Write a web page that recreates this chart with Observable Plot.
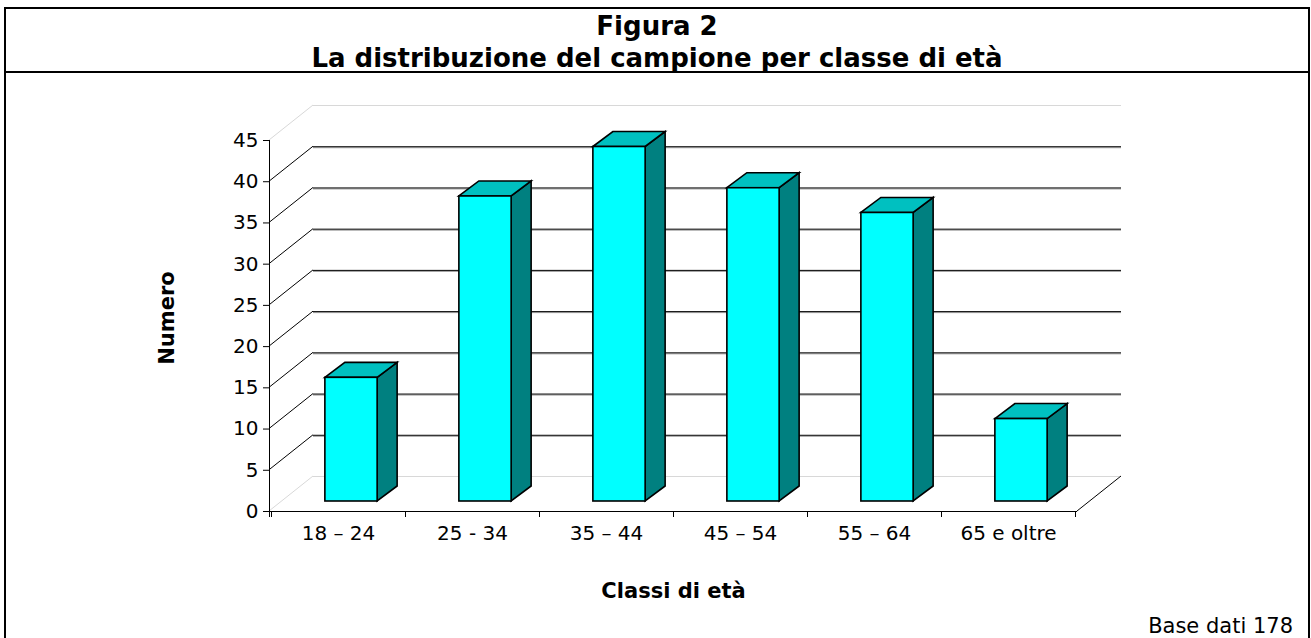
<!DOCTYPE html>
<html><head><meta charset="utf-8">
<script src="https://cdn.jsdelivr.net/npm/d3@7"></script>
<script src="https://cdn.jsdelivr.net/npm/@observablehq/plot@0.6"></script>
<style>
html,body{margin:0;padding:0;background:#fff;}
#page{position:relative;width:1311px;height:638px;overflow:hidden;font-family:"DejaVu Sans",Verdana,sans-serif;color:#000;background:#fff;}
#chart{position:absolute;left:0;top:0;}
#frame{position:absolute;left:4px;top:7px;width:1306px;height:660px;border:2px solid #000;box-sizing:border-box;pointer-events:none;}
#sep{position:absolute;left:4px;top:71px;width:1306px;height:2px;background:#000;}
#title{position:absolute;left:4px;top:10px;width:1306px;text-align:center;font-weight:bold;font-size:26px;line-height:32px;}
#base{position:absolute;right:18px;top:615px;font-size:21px;line-height:22px;white-space:nowrap;}
</style></head>
<body><div id="page"><div id="chart"></div><div id="frame"></div><div id="sep"></div><div id="title"></div><div id="base"></div></div>
<script>
// ---- data ----
const titleLines = ["Figura 2", "La distribuzione del campione per classe di età"];
const categories = ["18 – 24", "25 - 34", "35 – 44", "45 – 54", "55 – 64", "65 e oltre"];
const counts = [15, 37, 43, 38, 35, 10];
const yTicks = [0, 5, 10, 15, 20, 25, 30, 35, 40, 45];
const yLabel = "Numero";
const xLabel = "Classi di età";
const caption = "Base dati 178";

// ---- styles / 3D geometry (pixels) ----
const WALL = {dx: 44, dy: -35};
const FRONT = {dx: 13, dy: -10};
const DEPTH = {dx: 20, dy: -15};
const BAR_W = 0.39;
const FAINT = "#d8d8d8";

document.getElementById("title").innerHTML = titleLines.join("<br>");
document.getElementById("base").textContent = caption;

function scene(index, scales, values, dimensions) {
  const x = scales.x, y = scales.y;
  const bw = typeof x.bandwidth === "function" ? x.bandwidth() : x.bandwidth;
  const left = dimensions.marginLeft, right = dimensions.width - dimensions.marginRight;
  const yd = y.domain();
  const y0 = y(yd[0]), yTop = y(yd[1]);
  const g = d3.create("svg:g").attr("fill", "none").attr("stroke-linecap", "butt");
  const isEdge = d => d === yd[0] || d === yd[1];
  // left wall diagonals
  g.append("g").selectAll("line").data(yTicks).join("line")
    .attr("x1", left).attr("y1", d => y(d))
    .attr("x2", left + WALL.dx).attr("y2", d => y(d) + WALL.dy)
    .attr("stroke", d => isEdge(d) ? FAINT : "#000")
    .attr("stroke-width", 1);
  // right floor edge
  g.append("line").attr("x1", right).attr("y1", y0)
    .attr("x2", right + WALL.dx).attr("y2", y0 + WALL.dy)
    .attr("stroke", "#000");
  // x axis line
  g.append("line").attr("x1", left).attr("x2", right).attr("y1", y0 + 0.5).attr("y2", y0 + 0.5).attr("stroke", "#000");
  // y axis line
  g.append("line").attr("x1", left + 0.5).attr("x2", left + 0.5).attr("y1", yTop).attr("y2", y0 + 6).attr("stroke", "#000");
  // x ticks at band boundaries
  const bounds = categories.map(c => x(c)).concat([x(categories[categories.length - 1]) + bw]);
  g.append("g").selectAll("line").data(bounds).join("line")
    .attr("x1", d => Math.round(d) + 0.5).attr("x2", d => Math.round(d) + 0.5)
    .attr("y1", y0).attr("y2", y0 + 6).attr("stroke", "#000");
  // bars
  const bars = g.append("g").attr("stroke", "#000").attr("stroke-width", 1.6).attr("stroke-linejoin", "miter");
  categories.forEach((c, i) => {
    const cx = x(c) + bw / 2;
    const w = bw * BAR_W;
    const fx1 = cx - w / 2 + FRONT.dx, fx2 = cx + w / 2 + FRONT.dx;
    const fyb = y0 + FRONT.dy, fyt = y(counts[i]) + FRONT.dy;
    const pts = a => a.map(p => p.join(",")).join(" ");
    bars.append("polygon").attr("fill", "#008080").attr("points", pts([
      [fx2, fyt], [fx2 + DEPTH.dx, fyt + DEPTH.dy], [fx2 + DEPTH.dx, fyb + DEPTH.dy], [fx2, fyb]]));
    bars.append("polygon").attr("fill", "#00C0C0").attr("points", pts([
      [fx1, fyt], [fx1 + DEPTH.dx, fyt + DEPTH.dy], [fx2 + DEPTH.dx, fyt + DEPTH.dy], [fx2, fyt]]));
    bars.append("rect").attr("fill", "#00FFFF")
      .attr("x", fx1).attr("y", fyt).attr("width", fx2 - fx1).attr("height", fyb - fyt);
  });
  return g.node();
}

const chart = Plot.plot({
  width: 1311,
  height: 638,
  marginLeft: 269,
  marginRight: 234,
  marginTop: 140,
  marginBottom: 127,
  style: {fontFamily: "'DejaVu Sans', Verdana, sans-serif", fontSize: "20px", color: "#000", background: "transparent", overflow: "visible"},
  x: {type: "band", domain: categories, padding: 0, tickSize: 0, tickPadding: 14, label: null},
  y: {domain: [0, 45], ticks: yTicks, tickSize: 6, tickPadding: 5, label: null},
  marks: [
    Plot.ruleY(yTicks, {y: d => d, dx: WALL.dx, dy: WALL.dy + 1, stroke: d => (d === 0 || d === 45) ? "#ffffff" : "#9a9a9a", strokeWidth: 1}),
    Plot.ruleY(yTicks, {y: d => d, dx: WALL.dx, dy: WALL.dy, stroke: d => (d === 0 || d === 45) ? FAINT : "#000", strokeWidth: 1}),
    scene,
    Plot.text([yLabel], {frameAnchor: "left", textAnchor: "middle", lineAnchor: "middle", dx: -102, dy: -8, rotate: -90, fontWeight: "bold", fontSize: 21}),
    Plot.text([xLabel], {frameAnchor: "bottom", textAnchor: "middle", lineAnchor: "middle", dy: 80, fontWeight: "bold", fontSize: 21})
  ]
});
document.getElementById("chart").appendChild(chart);
</script>
</body></html>
